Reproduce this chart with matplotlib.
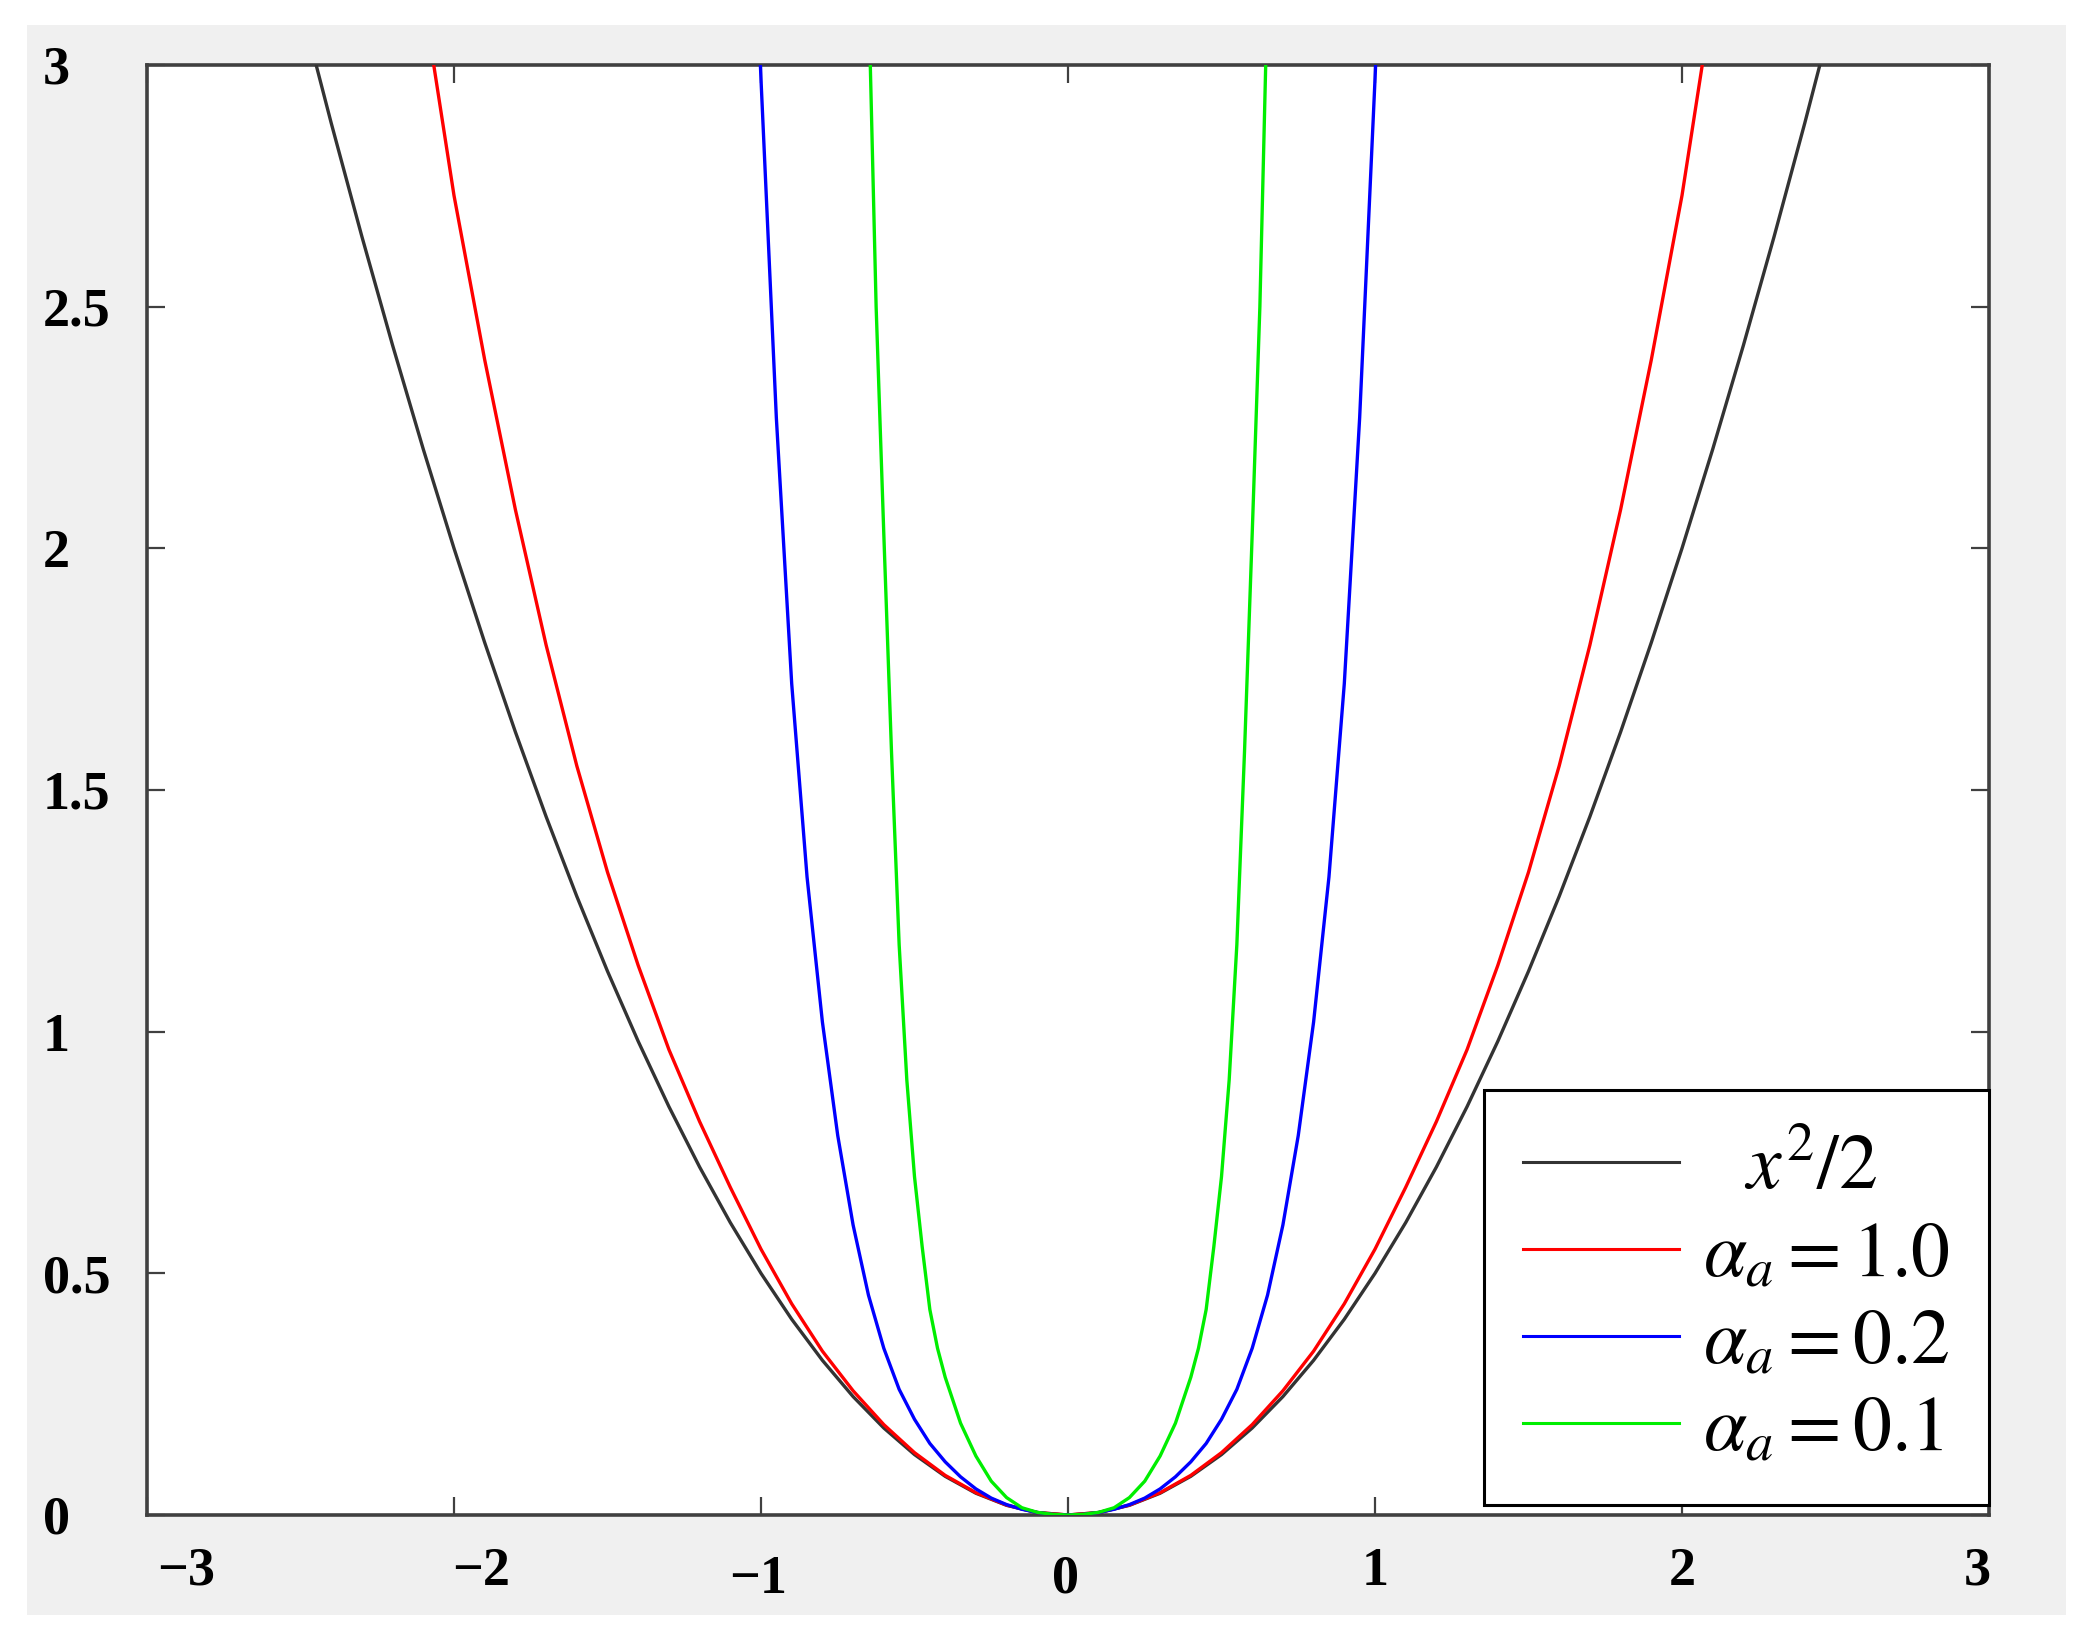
import matplotlib
matplotlib.use("Agg")
import matplotlib.pyplot as plt
import matplotlib.transforms as mtransforms
from matplotlib.patches import Rectangle
import numpy as np

# values (right half, the curves are symmetric about x=0)
black_x = [0, 0.1, 0.2, 0.3, 0.4, 0.5, 0.6, 0.7, 0.8, 0.9, 1.0, 1.1, 1.2, 1.3,
           1.4, 1.5, 1.6, 1.7, 1.8, 1.9, 2.0, 2.1, 2.2, 2.3, 2.4, 2.449]
black_y = [0, 0.005, 0.02, 0.045, 0.08, 0.125, 0.18, 0.245, 0.32, 0.405, 0.5,
           0.605, 0.72, 0.845, 0.98, 1.125, 1.28, 1.445, 1.62, 1.805, 2.0,
           2.205, 2.42, 2.645, 2.88, 3.0]

red_x = [0, 0.1, 0.2, 0.3, 0.4, 0.5, 0.6, 0.7, 0.8, 0.9, 1.0, 1.1, 1.2, 1.3,
         1.4, 1.5, 1.6, 1.7, 1.8, 1.9, 2.0, 2.066]
red_y = [0, 0.0051, 0.0205, 0.0462, 0.082, 0.129, 0.187, 0.257, 0.339, 0.437,
         0.55, 0.678, 0.814, 0.963, 1.137, 1.33, 1.55, 1.80, 2.08, 2.39, 2.73, 3.0]

blue_x = [0, 0.05, 0.1, 0.15, 0.2, 0.25, 0.3, 0.35, 0.4, 0.45, 0.5, 0.55, 0.6,
          0.65, 0.7, 0.75, 0.8, 0.85, 0.9, 0.95, 1.0, 1.002]
blue_y = [0, 0.0013, 0.0052, 0.0118, 0.0215, 0.035, 0.054, 0.079, 0.11, 0.148,
          0.198, 0.26, 0.345, 0.455, 0.60, 0.785, 1.02, 1.32, 1.72, 2.27, 2.97, 3.0]

green_x = [0, 0.05, 0.1, 0.15, 0.2, 0.25, 0.3, 0.35, 0.4, 0.425, 0.45, 0.475,
           0.5, 0.525, 0.55, 0.575, 0.6, 0.625, 0.644]
green_y = [0, 0.0013, 0.0055, 0.015, 0.036, 0.07, 0.122, 0.19, 0.285, 0.345,
           0.425, 0.555, 0.70, 0.90, 1.18, 1.58, 2.03, 2.5, 3.0]

labels = [r'$\enspace\;x^2/2$', r'$\alpha_a = 1.0$', r'$\alpha_a = 0.2$',
          r'$\alpha_a = 0.1$']
colors = ['#333333', '#ff0000', '#0000ff', '#00ee00']

xticks = [-3, -2, -1, 0, 1, 2, 3]
xticklabels = ['\u22123', '\u22122', '\u22121', '0', '1', '2', '3']
yticks = [0, 0.5, 1, 1.5, 2, 2.5, 3]
yticklabels = ['0', '0.5', '1', '1.5', '2', '2.5', '3']

plt.rcParams['mathtext.fontset'] = 'stix'

W, H = 2087, 1647
fig = plt.figure(figsize=(W / 100, H / 100), dpi=100)
fig.patch.set_facecolor('white')

# gray panel behind the plot
fig.patches.append(Rectangle((27 / W, 1 - 1615 / H), (2066 - 27) / W, (1615 - 25) / H,
                             transform=fig.transFigure, facecolor='#f0f0f0',
                             edgecolor='none', zorder=-5))

ax = fig.add_axes([147 / W, 1 - 1515 / H, (1989 - 147) / W, (1515 - 65) / H])
ax.set_facecolor('white')


def mirror(hx, hy):
    hx = np.asarray(hx)
    hy = np.asarray(hy)
    return np.concatenate([-hx[::-1], hx[1:]]), np.concatenate([hy[::-1], hy[1:]])


series = [(black_x, black_y), (red_x, red_y), (blue_x, blue_y), (green_x, green_y)]
for (hx, hy), c, lab in zip(series, colors, labels):
    xx, yy = mirror(hx, hy)
    ax.plot(xx, yy, color=c, lw=2.4, label=lab, zorder=3, solid_joinstyle='round')

ax.set_xlim(-3, 3)
ax.set_ylim(0, 3)

for s in ax.spines.values():
    s.set_color('#404040')
    s.set_linewidth(2.6)

ax.set_xticks(xticks)
ax.set_xticklabels(xticklabels)
ax.set_yticks(yticks)
ax.set_yticklabels(yticklabels)
ax.tick_params(direction='in', length=13, width=1.6, color='#404040',
               top=True, right=True, labelsize=39)
ax.tick_params(axis='x', pad=23)
ax.tick_params(axis='y', pad=75)

for lab in ax.get_xticklabels() + ax.get_yticklabels():
    lab.set_fontfamily('Liberation Serif')
    lab.set_fontweight('bold')
for lab in ax.get_yticklabels():
    lab.set_horizontalalignment('left')

# small shifts of the x labels as in the picture (pixels)
shifts = {0: (39, 0), 1: (27, 0), 2: (-3, -8), 3: (-3, -8), 6: (-12, 0)}
for i, lab in enumerate(ax.get_xticklabels()):
    if i in shifts:
        dx, dy = shifts[i]
        off = mtransforms.ScaledTranslation(dx / 100, dy / 100, fig.dpi_scale_trans)
        lab.set_transform(lab.get_transform() + off)

leg = ax.legend(loc='lower right', bbox_to_anchor=(1.0, 0.007), fontsize=56,
                handlelength=2.0, handletextpad=0.32, borderpad=0.5,
                labelspacing=0.14, borderaxespad=0, fancybox=False,
                framealpha=1, edgecolor='black')
leg.get_frame().set_linewidth(2.2)
for h in leg.get_lines():
    h.set_linewidth(2.2)

fig.savefig('out.png', dpi=100)
